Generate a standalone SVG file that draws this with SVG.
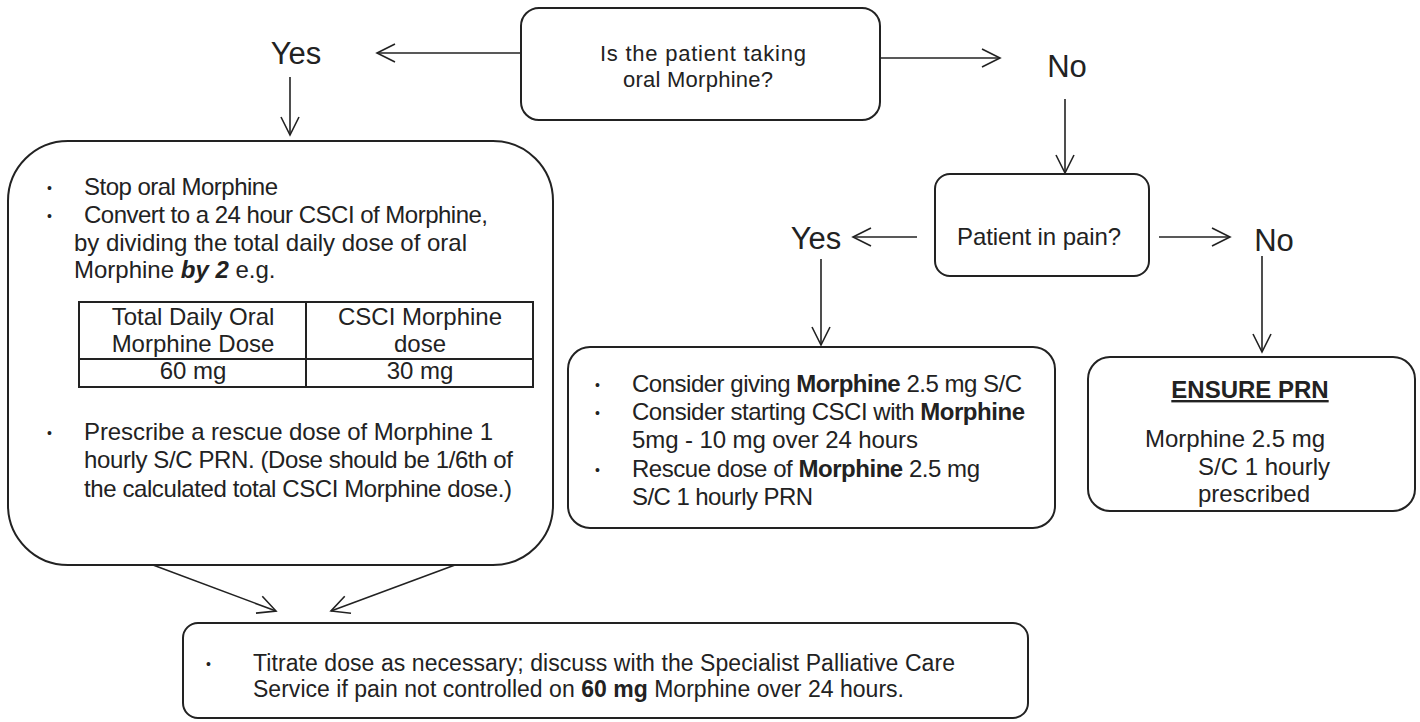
<svg xmlns="http://www.w3.org/2000/svg" width="1420" height="722" viewBox="0 0 1420 722">
<style>
  text { font-family: "Liberation Sans", Arial, sans-serif; fill: #222; font-size: 24px; }
  .lbl { font-size: 31px; }
  .bul { font-size: 14px; }
  .box { fill: #fff; stroke: #222; stroke-width: 2; }
  .tbl { fill: none; stroke: #222; stroke-width: 2; }
  .con { stroke: #222; stroke-width: 1.6; fill: none; }
  .b { font-weight: bold; }
  .bi { font-weight: bold; font-style: italic; }
  .sm { font-size: 23px; }
  .q { font-size: 22px; }
</style>
<defs>
  <marker id="arr" markerUnits="userSpaceOnUse" markerWidth="22" markerHeight="22" viewBox="0 0 22 22" refX="20" refY="11" orient="auto">
    <path d="M2,2 L20,11 L2,20" fill="none" stroke="#222" stroke-width="1.6"/>
  </marker>
</defs>
<rect width="1420" height="722" fill="#fff"/>

<g id="connectors">
  <line class="con" x1="521" y1="53" x2="377" y2="53" marker-end="url(#arr)"/>
  <line class="con" x1="880" y1="58" x2="1000" y2="58" marker-end="url(#arr)"/>
  <line class="con" x1="290" y1="77" x2="290" y2="135" marker-end="url(#arr)"/>
  <line class="con" x1="1065" y1="99" x2="1065" y2="173" marker-end="url(#arr)"/>
  <line class="con" x1="917" y1="237" x2="853" y2="237" marker-end="url(#arr)"/>
  <line class="con" x1="1159" y1="237" x2="1230" y2="237" marker-end="url(#arr)"/>
  <line class="con" x1="821" y1="259" x2="821" y2="345" marker-end="url(#arr)"/>
  <line class="con" x1="1262" y1="256" x2="1262" y2="352" marker-end="url(#arr)"/>
  <line class="con" x1="153" y1="565" x2="276" y2="611" marker-end="url(#arr)"/>
  <line class="con" x1="455" y1="565" x2="331" y2="611" marker-end="url(#arr)"/>
</g>

<g id="q-oral">
  <rect class="box" x="521" y="8" width="359" height="112" rx="18"/>
  <text x="703" y="61" text-anchor="middle" class="q" textLength="206">Is the patient taking</text>
  <text x="698" y="87" text-anchor="middle" class="q" textLength="150">oral Morphine?</text>
</g>

<g id="yes-top">
  <text class="lbl" x="296" y="64" text-anchor="middle">Yes</text>
</g>
<g id="no-top">
  <text class="lbl" x="1067" y="77" text-anchor="middle">No</text>
</g>

<g id="convert-box">
  <rect class="box" x="8" y="141" width="545" height="424" rx="60"/>
  <text class="bul" x="47" y="193">•</text>
  <text x="84" y="195" textLength="194">Stop oral Morphine</text>
  <text class="bul" x="47" y="221">•</text>
  <text x="84" y="223" textLength="404">Convert to a 24 hour CSCI of Morphine,</text>
  <text x="74" y="251" textLength="393">by dividing the total daily dose of oral</text>
  <text x="74" y="278">Morphine <tspan class="bi">by 2</tspan> e.g.</text>
  <rect class="tbl" x="79" y="302" width="454" height="85"/>
  <line class="tbl" x1="306" y1="302" x2="306" y2="387"/>
  <line class="tbl" x1="79" y1="359" x2="533" y2="359"/>
  <text x="193" y="325" text-anchor="middle">Total Daily Oral</text>
  <text x="193" y="352" text-anchor="middle">Morphine Dose</text>
  <text x="193" y="379" text-anchor="middle">60 mg</text>
  <text x="420" y="325" text-anchor="middle">CSCI Morphine</text>
  <text x="420" y="352" text-anchor="middle">dose</text>
  <text x="420" y="379" text-anchor="middle">30 mg</text>
  <text class="bul" x="47" y="438">•</text>
  <text x="84" y="440" textLength="409">Prescribe a rescue dose of Morphine 1</text>
  <text x="84" y="468" textLength="429">hourly S/C PRN. (Dose should be 1/6th of</text>
  <text x="84" y="497" textLength="428">the calculated total CSCI Morphine dose.)</text>
</g>

<g id="q-pain">
  <rect class="box" x="935" y="174" width="214" height="102" rx="15"/>
  <text x="1039" y="245" text-anchor="middle" textLength="164">Patient in pain?</text>
</g>

<g id="yes-mid">
  <text class="lbl" x="816" y="249" text-anchor="middle">Yes</text>
</g>
<g id="no-right">
  <text class="lbl" x="1274" y="251" text-anchor="middle">No</text>
</g>

<g id="consider-box">
  <rect class="box" x="568" y="347" width="487" height="181" rx="22"/>
  <text class="bul" x="595" y="390">•</text>
  <text x="632" y="392" textLength="390">Consider giving <tspan class="b">Morphine</tspan> 2.5 mg S/C</text>
  <text class="bul" x="595" y="418">•</text>
  <text x="632" y="420" textLength="393">Consider starting CSCI with <tspan class="b">Morphine</tspan></text>
  <text x="632" y="448" textLength="286">5mg - 10 mg over 24 hours</text>
  <text class="bul" x="595" y="475">•</text>
  <text x="632" y="477" textLength="348">Rescue dose of <tspan class="b">Morphine</tspan> 2.5 mg</text>
  <text x="632" y="505" textLength="181">S/C 1 hourly PRN</text>
</g>

<g id="ensure-box">
  <rect class="box" x="1088" y="357" width="327" height="154" rx="22"/>
  <text x="1250" y="398" text-anchor="middle" class="b" font-size="22" text-decoration="underline">ENSURE PRN</text>
  <text x="1145" y="447">Morphine 2.5 mg</text>
  <text x="1198" y="475">S/C 1 hourly</text>
  <text x="1198" y="502">prescribed</text>
</g>

<g id="titrate-box">
  <rect class="box" x="183" y="623" width="845" height="95" rx="15"/>
  <text class="bul" x="206" y="669">•</text>
  <text x="253" y="671" class="sm" textLength="702">Titrate dose as necessary; discuss with the Specialist Palliative Care</text>
  <text x="253" y="697" class="sm" textLength="651">Service if pain not controlled on <tspan class="b">60 mg</tspan> Morphine over 24 hours.</text>
</g>
</svg>
